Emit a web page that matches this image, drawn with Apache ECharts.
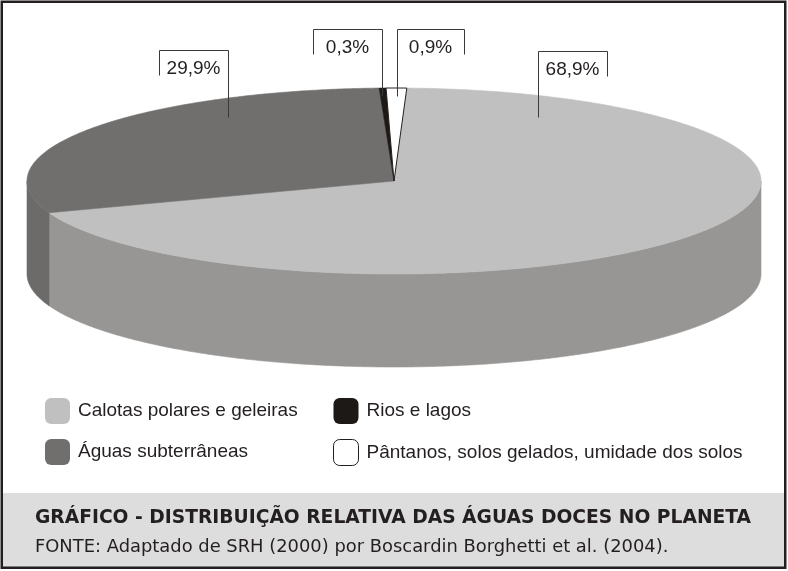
<!DOCTYPE html>
<html>
<head>
<meta charset="utf-8">
<script src="https://cdn.jsdelivr.net/npm/echarts@6/dist/echarts.min.js"></script>
<style>
html,body{margin:0;padding:0;background:#fff;}
#chart{width:788px;height:571px;}
</style>
</head>
<body>
<div id="chart"></div>
<script>
// ---- data ----
const categories = ['Calotas polares e geleiras', 'Águas subterrâneas', 'Rios e lagos', 'Pântanos, solos gelados, umidade dos solos'];
const values = [68.9, 29.9, 0.3, 0.9];
const chartTitle = 'GRÁFICO - DISTRIBUIÇÃO RELATIVA DAS ÁGUAS DOCES NO PLANETA';
const chartSource = 'FONTE: Adaptado de SRH (2000) por Boscardin Borghetti et al. (2004).';

// ---- styles / layout ----
const topColors = ['#c0c0c0', '#706f6e', '#1c1916', '#ffffff'];
const sideColors = ['#979694', '#6c6b6a', '#1c1916', '#e6e6e6'];
const FONT = '"Liberation Sans", Arial, sans-serif';
const TFONT = '"DejaVu Sans", sans-serif';
const INK = '#231f20';
const CX = 394, CY = 181, RX = 367, RY = 93, DEPTH = 93, START = 2;
const labelLayout = [
  {x0: 538, x1: 607, top: 51, long: 'left', end: 117},
  {x0: 159, x1: 228, top: 50, long: 'right', end: 117},
  {x0: 313, x1: 382, top: 29, long: 'right', end: 96},
  {x0: 397, x1: 464, top: 29, long: 'left', end: 96}
];

const total = values.reduce((s, v) => s + v, 0);

function pt(theta, dy) {
  const r = theta * Math.PI / 180;
  return [CX + RX * Math.sin(r), CY - RY * Math.cos(r) + (dy || 0)];
}
function arc(a, b, dy) {
  const pts = [];
  const n = Math.max(2, Math.ceil(Math.abs(b - a) / 0.5));
  for (let i = 0; i <= n; i++) pts.push(pt(a + (b - a) * i / n, dy));
  return pts;
}
function frontRanges(a, b) {
  const out = [];
  [0, 360].forEach(k => {
    const lo = Math.max(a, 90 + k), hi = Math.min(b, 270 + k);
    if (hi > lo) out.push([lo, hi]);
  });
  return out;
}
function fmt(v) { return String(v).replace('.', ',') + '%'; }

function makeRender(idx) {
  return function (params, api) {
    const v = api.value(0);
    let before = 0;
    for (let i = 0; i < idx; i++) before += values[i];
    const a = START + before / total * 360;
    const b = a + v / total * 360;
    const children = [];
    const isWhite = topColors[idx] === '#ffffff';
    frontRanges(a, b).forEach(([lo, hi]) => {
      const pts = arc(lo, hi, 0).concat(arc(hi, lo, DEPTH));
      children.push({
        type: 'polygon', z2: 1,
        shape: {points: pts},
        style: {fill: sideColors[idx], stroke: sideColors[idx], lineWidth: 0.6}
      });
    });
    const topPts = [[CX, CY]].concat(arc(a, b, 0));
    children.push({
      type: 'polygon', z2: isWhite ? 12 : 10,
      shape: {points: topPts},
      style: {fill: topColors[idx], stroke: isWhite ? INK : topColors[idx], lineWidth: isWhite ? 1 : 0.6}
    });
    const L = labelLayout[idx];
    const shortEnd = L.top + 25;
    const pts = L.long === 'left'
      ? [[L.x0, L.end], [L.x0, L.top], [L.x1, L.top], [L.x1, shortEnd]]
      : [[L.x0, shortEnd], [L.x0, L.top], [L.x1, L.top], [L.x1, L.end]];
    children.push({
      type: 'polyline', z2: 20,
      shape: {points: pts.map(p => [Math.round(p[0]) + 0.5, Math.round(p[1]) + 0.5])},
      style: {stroke: '#3a3a3a', lineWidth: 1, fill: null}
    });
    children.push({
      type: 'text', z2: 21,
      x: (L.x0 + L.x1) / 2, y: L.top + 18.5,
      style: {text: fmt(v), fontSize: 19, fontFamily: FONT, fill: INK, align: 'center', verticalAlign: 'middle'}
    });
    return {type: 'group', children: children};
  };
}

const series = categories.map((name, i) => ({
  type: 'custom',
  name: name,
  coordinateSystem: 'none',
  data: [values[i]],
  itemStyle: {color: topColors[i], borderColor: topColors[i] === '#ffffff' ? INK : topColors[i], borderWidth: topColors[i] === '#ffffff' ? 1 : 0},
  renderItem: makeRender(i),
  silent: true
}));

const legendCommon = {
  orient: 'vertical',
  icon: 'roundRect',
  itemWidth: 25,
  itemHeight: 26,
  itemGap: 15,
  padding: 0,
  selectedMode: false,
  textStyle: {fontSize: 19, fontFamily: FONT, color: INK, padding: [0, 0, 0, 3]}
};
function legendItem(i) {
  return {name: categories[i], itemStyle: {color: topColors[i], borderColor: topColors[i] === '#ffffff' ? INK : topColors[i], borderWidth: topColors[i] === '#ffffff' ? 1 : 0}};
}

const chart = echarts.init(document.getElementById('chart'), null, {renderer: 'canvas'});
chart.setOption({
  animation: false,
  backgroundColor: '#ffffff',
  title: {
    text: chartTitle,
    subtext: chartSource,
    left: 35,
    top: 507,
    itemGap: 7,
    padding: 0,
    textStyle: {fontSize: 18.7, fontWeight: 'bold', fontFamily: TFONT, color: INK, lineHeight: 22},
    subtextStyle: {fontSize: 17.9, fontFamily: TFONT, color: INK, lineHeight: 22}
  },
  legend: [
    Object.assign({}, legendCommon, {left: 45, top: 398, data: [legendItem(0), legendItem(1)]}),
    Object.assign({}, legendCommon, {left: 333, top: 398, data: [legendItem(2), legendItem(3)]})
  ],
  graphic: [
    {type: 'rect', z: -10, shape: {x: 3, y: 493, width: 781, height: 74}, style: {fill: '#dddddd'}, silent: true},
    {type: 'rect', z: 100, shape: {x: 1.75, y: 1.75, width: 783.5, height: 566}, style: {fill: null, stroke: INK, lineWidth: 2.5}, silent: true}
  ],
  series: series
});
</script>
</body>
</html>
